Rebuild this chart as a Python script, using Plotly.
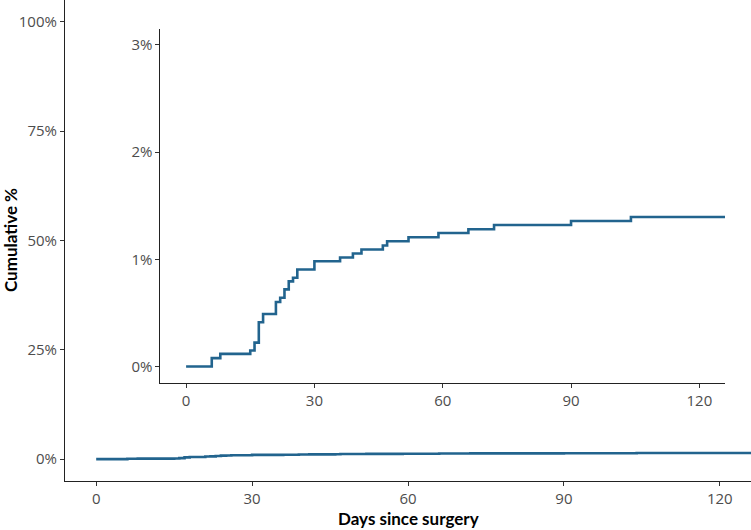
import plotly.graph_objects as go

# Cumulative incidence (step function)
days = [0, 6, 8, 15, 16, 17, 18, 21, 22, 23, 24, 25, 26, 30, 36, 39, 41, 46, 47,
        52, 59, 66, 72, 90, 104, 126]
cum_pct = [0, 0.078, 0.118, 0.149, 0.223, 0.413, 0.49, 0.601, 0.641, 0.719, 0.794,
           0.827, 0.905, 0.982, 1.017, 1.054, 1.091, 1.128, 1.168, 1.205, 1.245,
           1.280, 1.320, 1.357, 1.394, 1.394]

x_ticks = [0, 30, 60, 90, 120]
main_y_ticks = [0, 25, 50, 75, 100]
inset_y_ticks = [0, 1, 2, 3]

x_title = "Days since surgery"
y_title = "Cumulative %"

line_color = "#22648e"
tick_font = dict(family="Open Sans", size=15, color="#4d4d4d")

fig = go.Figure()
fig.add_trace(go.Scatter(x=days, y=cum_pct, mode="lines", line_shape="hv",
                         line=dict(color=line_color, width=2.6),
                         xaxis="x", yaxis="y", showlegend=False, hoverinfo="skip"))
fig.add_trace(go.Scatter(x=days, y=cum_pct, mode="lines", line_shape="hv",
                         line=dict(color=line_color, width=2.6),
                         xaxis="x2", yaxis="y2", showlegend=False, hoverinfo="skip"))

axis_common = dict(showline=True, linecolor="#222222", linewidth=1.1, showgrid=False,
                   zeroline=False, ticks="outside", ticklen=4, tickwidth=1,
                   tickcolor="#333333", tickfont=tick_font)

W, H = 751, 530
ml, mr, mt, mb = 64.5, 0, 0, 49
pw = W - ml - mr
ph = H - mt - mb

fig.update_layout(
    width=W, height=H,
    margin=dict(l=ml, r=mr, t=mt, b=mb, pad=0),
    paper_bgcolor="white", plot_bgcolor="rgba(0,0,0,0)",
    xaxis=dict(domain=[0, 1], range=[-6, 126], anchor="y",
               tickvals=x_ticks, ticktext=[str(v) for v in x_ticks], **axis_common),
    yaxis=dict(domain=[0, 1], range=[-5, 105], anchor="x",
               tickvals=main_y_ticks, ticktext=[f"{v}%" for v in main_y_ticks],
               **axis_common),
    xaxis2=dict(domain=[(160 - ml) / pw, (725 - ml) / pw], range=[-6, 126], anchor="y2",
                tickvals=x_ticks, ticktext=[str(v) for v in x_ticks], **axis_common),
    yaxis2=dict(domain=[(ph - 382.6) / ph, (ph - 28.7) / ph], range=[-0.15, 3.15],
                anchor="x2", tickvals=inset_y_ticks,
                ticktext=[f"{v}%" for v in inset_y_ticks], **axis_common),
    annotations=[
        dict(text=f"<b>{x_title}</b>", xref="paper", yref="paper", x=0.5,
             y=(ph - 518) / ph, xanchor="center", yanchor="middle", showarrow=False,
             font=dict(family="Lato", size=17, color="black")),
        dict(text=f"<b>{y_title}</b>", xref="paper", yref="paper", x=(10 - ml) / pw,
             y=0.5, xanchor="center", yanchor="middle", showarrow=False, textangle=-90,
             font=dict(family="Lato", size=17, color="black")),
    ],
)

fig.write_html("out.html")
